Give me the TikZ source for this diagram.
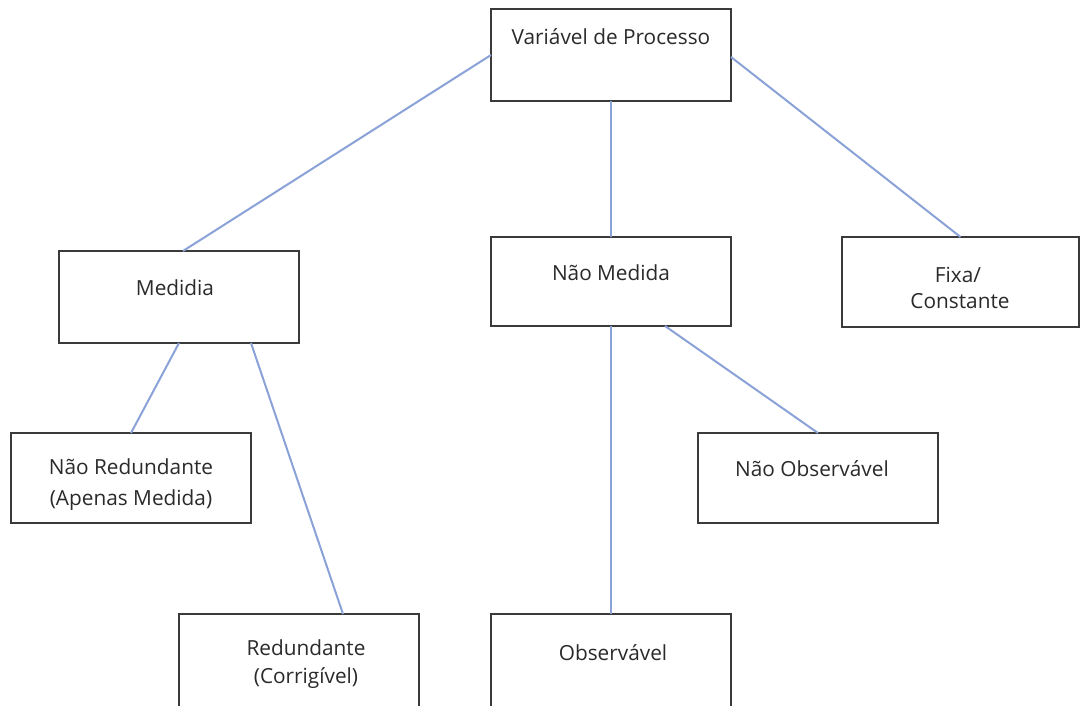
\documentclass[tikz,border=0pt]{standalone}
\usepackage{fontspec}
\setmainfont{Open Sans}
\definecolor{boxline}{HTML}{3A3A3A}
\definecolor{linkblue}{HTML}{8AA2D8}
\definecolor{txt}{HTML}{2A2A2A}
\begin{document}
\begin{tikzpicture}[x=1pt,y=-1pt,
  box/.style={draw=boxline,line width=1.3pt,fill=white,inner sep=0pt,outer sep=0pt},
  lbl/.style={anchor=base,inner sep=0pt,text=txt,font=\fontsize{20.8}{24}\selectfont},
  link/.style={draw=linkblue,line width=2pt}]
\useasboundingbox (0,0) rectangle (1080,706);
\begin{scope}
\clip (0,0) rectangle (1080,706);
% boxes
\node[box,minimum width=240pt,minimum height=92pt] (vp)   at (611,55)  {};
\node[box,minimum width=240pt,minimum height=92pt] (med)  at (179,297) {};
\node[box,minimum width=240pt,minimum height=89pt] (nmed) at (611,281.5) {};
\node[box,minimum width=237pt,minimum height=90pt] (fixa) at (960.5,282) {};
\node[box,minimum width=240pt,minimum height=90pt] (nred) at (131,478) {};
\node[box,minimum width=240pt,minimum height=90pt] (nobs) at (818,478) {};
\node[box,minimum width=240pt,minimum height=96pt] (red)  at (299,662) {};
\node[box,minimum width=240pt,minimum height=96pt] (obs)  at (611,662) {};
% connectors
\draw[link] (vp.west) -- ([xshift=4pt]med.north);
\draw[link] (vp.south) -- (nmed.north);
\draw[link] ([yshift=-2pt]vp.east) -- (fixa.north);
\draw[link] (med.south) -- (nred.north);
\draw[link] ([xshift=72pt]med.south) -- ([xshift=44pt]red.north);
\draw[link] (nmed.south) -- (obs.north);
\draw[link] ([xshift=54pt]nmed.south) -- (nobs.north);
% labels
\node[lbl] (t1)  at (611,45)  {Variável de Processo};
\node[lbl] (t2)  at (175,295) {Medidia};
\node[lbl] (t3)  at (611,280) {Não Medida};
\node[lbl] (t4a) at (958,282) {Fixa/};
\node[lbl] (t4b) at (960,308) {Constante};
\node[lbl] (t5a) at (131,474) {Não Redundante};
\node[lbl] (t5b) at (131,505) {(Apenas Medida)};
\node[lbl] (t6)  at (812,476) {Não Observável};
\node[lbl] (t7a) at (306,655) {Redundante};
\node[lbl] (t7b) at (306,683) {(Corrigível)};
\node[lbl] (t8)  at (613,660) {Observável};
\end{scope}
\end{tikzpicture}
\end{document}
